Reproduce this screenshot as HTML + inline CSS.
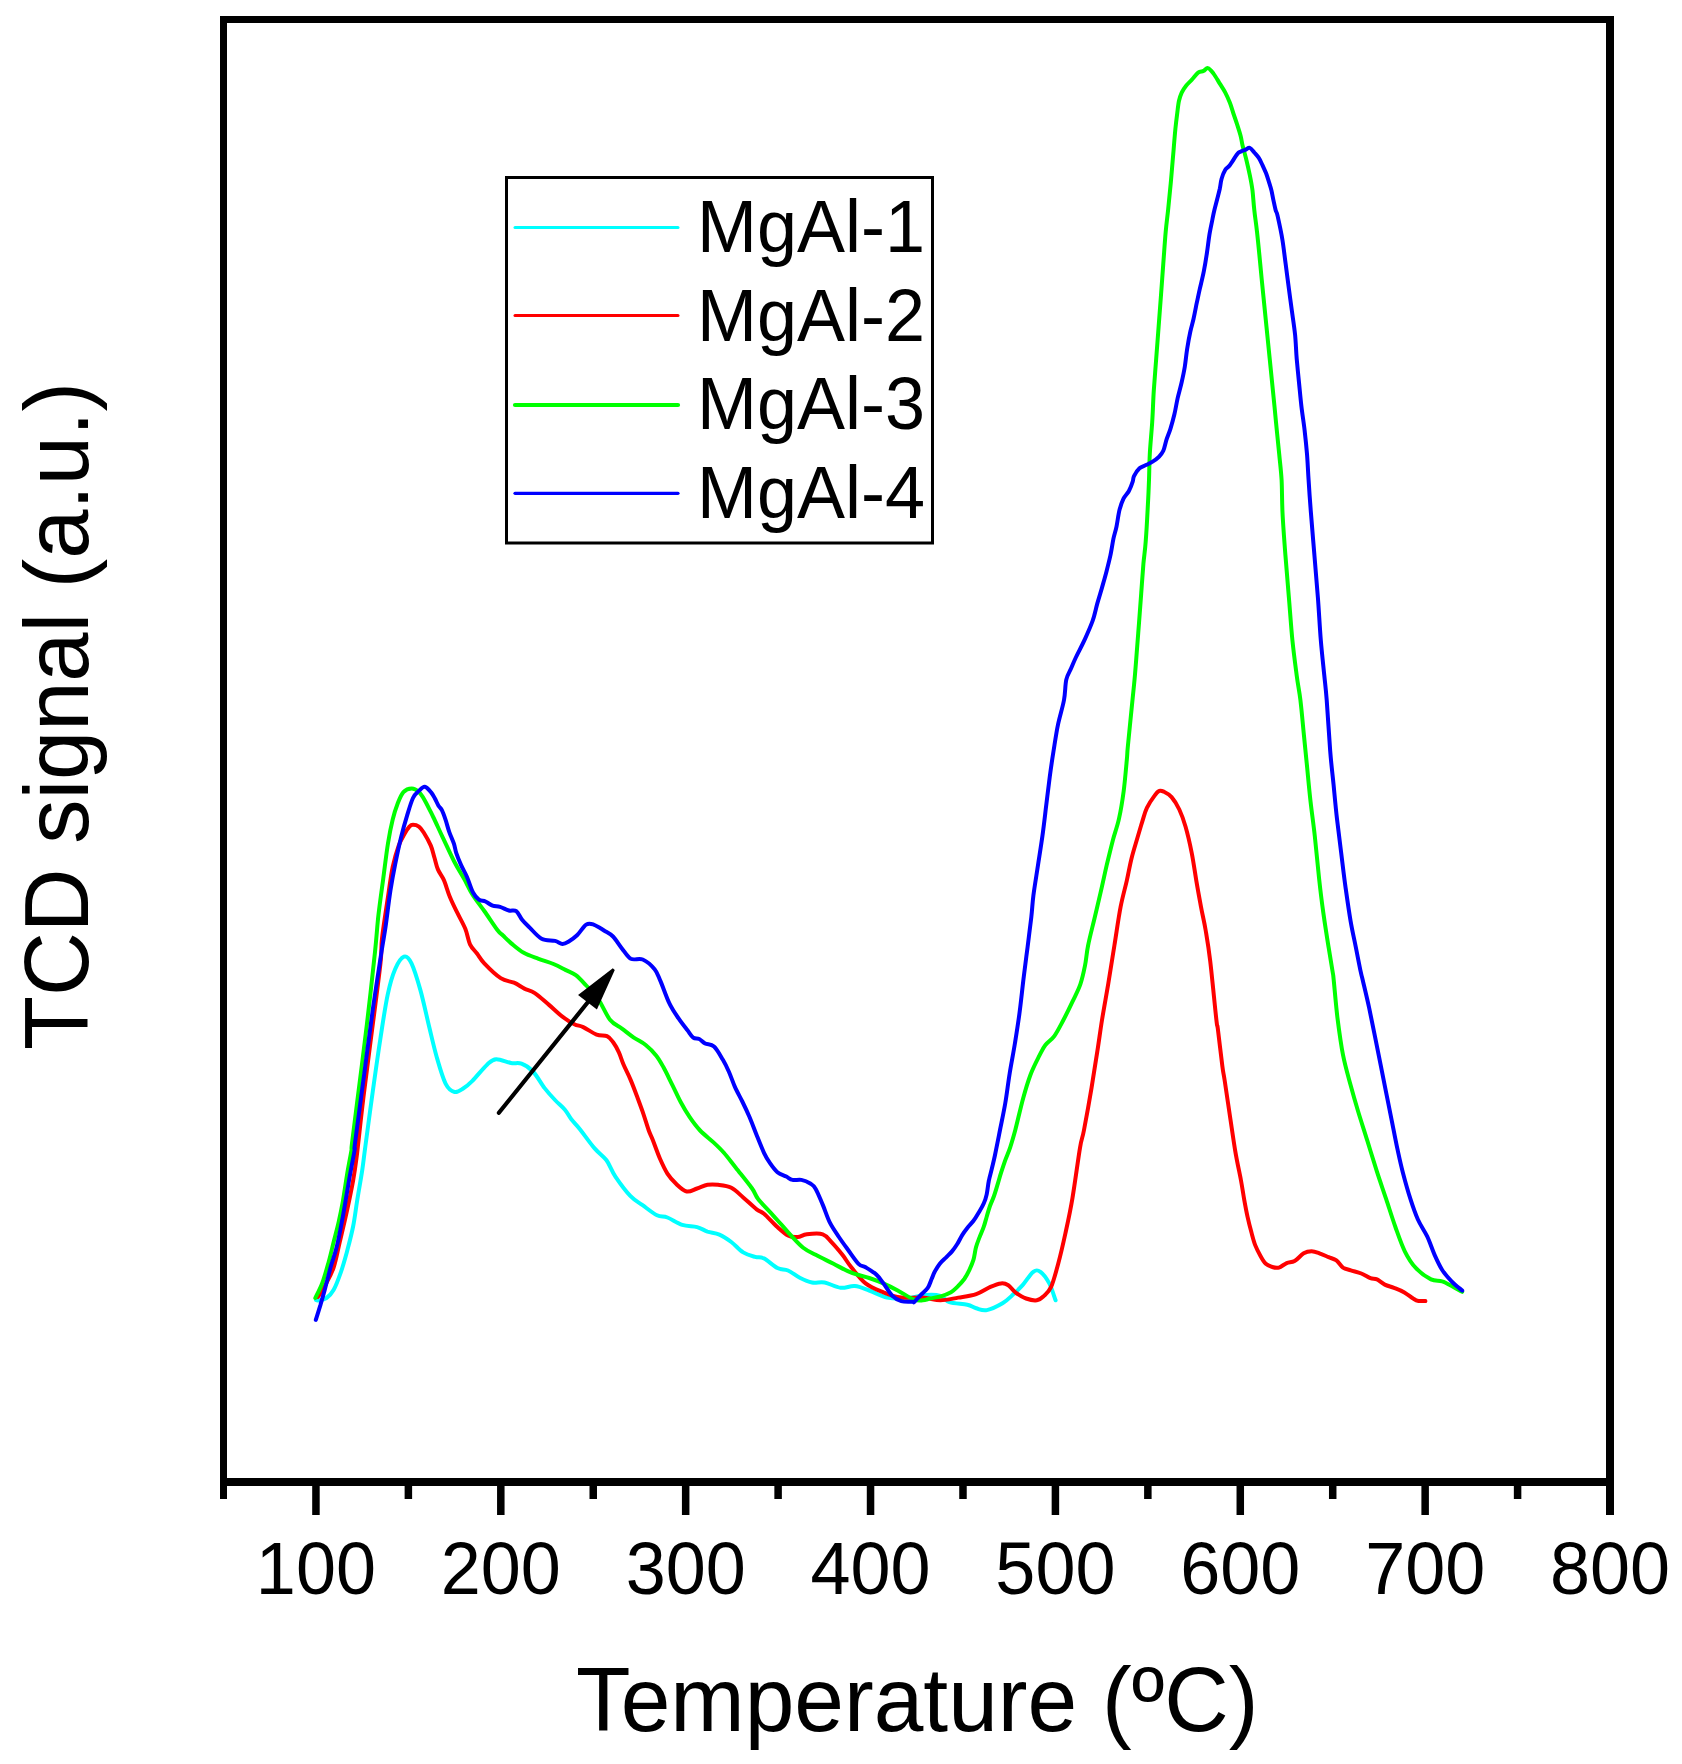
<!DOCTYPE html>
<html><head><meta charset="utf-8"><title>TCD signal</title>
<style>html,body{margin:0;padding:0;background:#fff;}svg{display:block;}</style>
</head><body>
<svg width="1682" height="1764" viewBox="0 0 1682 1764">
<rect x="0" y="0" width="1682" height="1764" fill="#ffffff"/>
<path d="M316 1300C316.4 1300.1 316.6 1300.8 318.4 1300.5C320.1 1300.2 323.9 1299.8 326.5 1298C329.1 1296.2 331.3 1294.1 333.7 1289.8C336.1 1285.5 338.6 1278.7 340.8 1272.4C343 1266.1 344.8 1259.7 346.9 1252C348.9 1244.3 351.4 1235 353.1 1226.5C354.8 1218 355.6 1210.3 357.1 1201C358.6 1191.7 360.8 1179.6 362.2 1170.4C363.6 1161.2 363.6 1159.2 365.4 1146C367.2 1132.8 370.3 1109 372.8 1091.2C375.3 1073.4 377.8 1055.3 380.3 1039.2C382.8 1023.1 385.2 1006.2 387.7 994.6C390.2 983 392.4 975.6 395.1 969.3C397.8 963 401.3 957.7 404 956.7C406.7 955.7 408.8 957.8 411.5 963.4C414.2 969 417.4 979.5 420.4 990.1C423.4 1000.8 426.6 1016.1 429.3 1027.3C432 1038.5 434 1047.6 436.7 1057C439.4 1066.4 442.7 1078 445.7 1083.8C448.7 1089.6 451.6 1091.3 454.6 1092C457.6 1092.7 460.5 1090.1 463.5 1088.2C466.5 1086.3 468.4 1084.8 472.4 1080.8C476.4 1076.8 483.3 1068 487.3 1064.4C491.3 1060.8 492.2 1059.4 496.2 1059.2C500.1 1059 506.8 1062.2 511 1063C515.2 1063.8 517.8 1062.3 521.5 1063.7C525.2 1065.1 529.1 1067.4 533 1071.5C536.9 1075.6 540.9 1083.3 544.6 1088.1C548.3 1092.8 551.6 1096.4 555 1100C558.4 1103.6 562.2 1106.5 564.9 1109.7C567.6 1112.9 568.8 1116.1 571.3 1119.3C573.8 1122.5 575.8 1124.2 579.7 1129C583.6 1133.8 590.1 1143.2 594.6 1148.4C599.1 1153.6 603 1155.6 606.5 1160.3C610 1165 611.4 1170.7 615.4 1176.6C619.4 1182.5 625.8 1191.2 630.3 1195.9C634.8 1200.6 637.8 1201.7 642.2 1204.9C646.7 1208.1 652.8 1213.2 657 1215.3C661.2 1217.4 663.2 1215.9 667.4 1217.5C671.6 1219.1 677.3 1223.3 682.3 1224.9C687.2 1226.5 692.9 1226 697.1 1227.1C701.3 1228.2 703.8 1230.3 707.5 1231.6C711.2 1232.8 715.4 1232.9 719.4 1234.6C723.4 1236.3 727.3 1239 731.3 1242C735.3 1245 739.2 1249.9 743.2 1252.4C747.2 1254.9 751.6 1255.9 755.1 1256.9C758.6 1257.9 760.3 1256.6 764 1258.4C767.7 1260.2 773.4 1266 777.4 1268C781.4 1270 784.3 1268.9 788 1270.5C791.7 1272.1 795.8 1275.8 799.8 1277.8C803.8 1279.8 808 1281.7 812.1 1282.5C816.2 1283.3 819.9 1281.6 824.6 1282.5C829.4 1283.4 835.6 1287.2 840.6 1287.8C845.6 1288.4 850.1 1285.6 854.9 1286.1C859.7 1286.5 863.9 1288.6 869.2 1290.5C874.6 1292.4 881.1 1296.3 887 1297.6C892.9 1298.9 898.3 1298.9 904.8 1298.5C911.3 1298.1 920.2 1295.4 926.2 1295C932.2 1294.6 936.6 1294.7 940.5 1295.9C944.4 1297.1 944.9 1300.6 949.4 1302.1C953.9 1303.6 962.8 1303.8 967.3 1304.8C971.8 1305.8 972.9 1307.4 976.2 1308.3C979.5 1309.2 982.5 1311 986.9 1310.1C991.3 1309.2 998.4 1305.7 1002.9 1303C1007.4 1300.3 1010.3 1297.1 1013.6 1294.1C1016.9 1291.1 1019.3 1288.9 1022.6 1285.2C1025.9 1281.5 1030.3 1274 1033.3 1271.8C1036.3 1269.6 1037.7 1269.9 1040.4 1271.8C1043.1 1273.7 1046.8 1278.7 1049.3 1283.4C1051.8 1288.2 1054.5 1297.5 1055.6 1300.3" fill="none" stroke="#00ffff" stroke-width="4" stroke-linejoin="round" stroke-linecap="round"/>
<path d="M317.9 1297C319.2 1295 322.9 1289.7 325.5 1284.7C328.1 1279.8 331.3 1274.5 333.7 1267.3C336.1 1260.1 337.6 1251.1 339.8 1241.8C342 1232.5 344.7 1221.4 346.9 1211.2C349.1 1201 351.5 1189.4 353.1 1180.6C354.7 1171.8 354.9 1170.5 356.5 1158.1C358.1 1145.7 360.2 1124.6 362.4 1106C364.6 1087.4 366.9 1070.1 369.9 1046.6C372.9 1023.1 378.3 982.9 380.3 964.9C382.3 946.9 380.7 949.8 382 938.4C383.3 927 386.2 908.6 388 896.7C389.8 884.8 390.9 875.5 392.7 867C394.5 858.5 396.7 851.1 398.7 845.6C400.7 840.1 402.8 836.9 404.6 833.7C406.4 830.5 408 828.1 409.4 826.6C410.8 825.1 411.4 824.8 413 824.8C414.6 824.8 417.1 825.3 418.9 826.6C420.7 827.9 421.7 829.3 423.7 832.5C425.7 835.7 429 841.4 430.8 845.6C432.6 849.8 433.2 853.5 434.4 857.5C435.6 861.5 436.3 865.6 437.9 869.4C439.5 873.2 441.9 875.5 443.9 880.1C445.9 884.7 447.6 891.4 449.8 896.7C452 902.1 454.4 906.9 457 912.2C459.6 917.6 463.1 923.4 465.3 928.8C467.5 934.1 468 940.1 470 944.3C472 948.5 474.8 950.6 477.2 953.8C479.6 957 480.4 959.3 484.3 963.4C488.2 967.5 495.8 975 500.7 978.2C505.6 981.4 510.1 981 514 982.7C518 984.4 520.9 986.9 524.4 988.6C527.9 990.3 530.7 990.4 534.8 993.1C538.9 995.8 544.4 1001 549 1004.9C553.6 1008.8 558.2 1013.5 562.4 1016.7C566.6 1019.9 570.8 1022.5 574.3 1024.2C577.8 1025.9 579.5 1025.4 583.2 1027.1C586.9 1028.8 592.6 1033.1 596.6 1034.6C600.6 1036.1 604.3 1034.9 607 1036.1C609.7 1037.3 611 1039.3 613 1042C615 1044.7 617.2 1048.7 618.9 1052.4C620.6 1056.1 621.5 1059.8 623.4 1064.3C625.3 1068.8 628.3 1074.4 630.5 1079.6C632.7 1084.8 634.7 1090.1 636.7 1095.5C638.7 1100.9 640.7 1106.2 642.7 1111.9C644.7 1117.7 647 1125.4 648.6 1130C650.2 1134.6 650.7 1134.7 652.6 1139.5C654.5 1144.3 657.5 1153.1 660 1158.8C662.5 1164.5 664.7 1169.4 667.4 1173.6C670.1 1177.8 673.1 1181 676.3 1184C679.5 1187 683.2 1190.8 686.7 1191.5C690.2 1192.2 693.6 1189.6 697.1 1188.5C700.6 1187.4 704 1185.4 707.5 1184.8C711 1184.2 714 1184.3 718 1184.8C722 1185.3 727.1 1185.7 731.3 1187.8C735.5 1189.9 739 1193.8 743.2 1197.4C747.4 1201 753.1 1206.6 756.6 1209.3C760.1 1212 760.5 1210.8 764 1213.8C767.5 1216.8 773.3 1223.4 777.4 1227.1C781.5 1230.8 785.1 1234.1 788.5 1235.8C791.9 1237.5 794.8 1237.2 797.8 1237C800.8 1236.8 802.6 1234.8 806.8 1234.3C811 1233.8 818.6 1232.9 822.8 1234.3C826.9 1235.7 828.4 1239 831.7 1242.4C835 1245.8 839.1 1250.7 842.4 1254.8C845.7 1258.9 847.4 1262.5 851.3 1267.3C855.2 1272.1 860.2 1279.2 865.6 1283.4C871 1287.6 877.5 1289.9 883.4 1292.3C889.3 1294.7 894.8 1296.7 901.3 1297.6C907.8 1298.5 916.2 1297.1 922.7 1297.6C929.2 1298 934.6 1300.3 940.5 1300.3C946.4 1300.3 952.3 1298.6 958.3 1297.6C964.2 1296.6 970.9 1295.9 976.2 1294.1C981.6 1292.3 986.2 1288.7 990.4 1286.9C994.5 1285.1 998.1 1283.7 1001.1 1283.4C1004.1 1283.1 1005.9 1283.7 1008.3 1285.2C1010.7 1286.7 1012.4 1290.1 1015.4 1292.3C1018.4 1294.5 1022.5 1297.2 1026.1 1298.5C1029.7 1299.8 1033.8 1300.7 1036.8 1300.3C1039.8 1299.9 1041.6 1298.1 1044 1295.9C1046.4 1293.7 1048.7 1292.2 1051.1 1286.9C1053.5 1281.6 1055.8 1272.7 1058.2 1263.8C1060.6 1254.9 1063 1244.4 1065.4 1233.4C1067.8 1222.4 1070.1 1212.1 1072.5 1197.8C1074.9 1183.5 1078.1 1159.1 1080 1147.8C1081.9 1136.5 1082.1 1140 1084 1130C1085.9 1120 1089.3 1101.3 1091.5 1088.1C1093.7 1074.9 1095.7 1062.2 1097.4 1050.9C1099.2 1039.6 1100.2 1031.1 1102 1020C1103.8 1008.9 1106.1 996.5 1108.2 984.1C1110.3 971.7 1112.3 958.4 1114.4 945.5C1116.5 932.6 1118.5 917.7 1120.6 906.9C1122.7 896.1 1125 888.6 1126.8 880.6C1128.6 872.6 1129.6 866.1 1131.4 858.9C1133.2 851.7 1135.8 843.5 1137.6 837.3C1139.4 831.1 1140.7 826.7 1142.2 821.8C1143.8 816.9 1144.8 812.3 1146.9 807.9C1149 803.5 1152.5 798.4 1154.6 795.6C1156.6 792.8 1157.7 791.5 1159.2 790.9C1160.8 790.2 1161.8 790.7 1163.9 791.7C1166 792.7 1169 794.1 1171.6 797.1C1174.2 800.1 1177 804.6 1179.3 809.5C1181.6 814.4 1183.4 819.3 1185.5 826.5C1187.6 833.7 1189.9 843.8 1191.7 852.8C1193.5 861.8 1194.8 871.6 1196.3 880.6C1197.8 889.6 1199.5 898.7 1201 906.9C1202.5 915.1 1204.1 921 1205.6 930C1207.1 939 1208.4 946 1210.2 961C1212 976 1215.1 1008.7 1216.4 1020C1217.7 1031.3 1216.8 1021 1217.8 1028.6C1218.8 1036.2 1221.2 1057.2 1222.3 1065.8C1223.4 1074.4 1223.3 1071.7 1224.6 1080C1225.9 1088.3 1228.1 1103.8 1229.9 1115.7C1231.7 1127.6 1233.5 1140.6 1235.3 1151.3C1237.1 1162 1239.4 1172 1240.9 1180C1242.4 1188 1243.1 1193.5 1244.2 1199.6C1245.3 1205.7 1246.3 1211.1 1247.5 1216.6C1248.7 1222 1250.1 1227.5 1251.4 1232.3C1252.7 1237.1 1253.8 1241.5 1255.3 1245.4C1256.8 1249.3 1258.8 1252.9 1260.5 1255.9C1262.2 1259 1263.8 1261.9 1265.8 1263.7C1267.8 1265.5 1270.1 1266.3 1272.3 1267C1274.5 1267.7 1276.5 1268.2 1278.9 1267.6C1281.3 1266.9 1284.1 1264.2 1286.7 1263.1C1289.3 1262 1291.8 1262.7 1294.6 1261.1C1297.4 1259.5 1300.9 1254.9 1303.7 1253.3C1306.5 1251.7 1309 1251.3 1311.6 1251.3C1314.2 1251.3 1316.6 1252.3 1319.4 1253.3C1322.2 1254.3 1325.8 1256 1328.6 1257.2C1331.4 1258.4 1334 1258.7 1336.4 1260.4C1338.8 1262.1 1340.6 1265.9 1343 1267.6C1345.4 1269.2 1347.8 1269.3 1350.8 1270.3C1353.8 1271.3 1358 1272.2 1361.3 1273.5C1364.6 1274.8 1367.8 1277.1 1370.4 1278.1C1373 1279.1 1374.6 1278.3 1377 1279.4C1379.4 1280.5 1382 1283.2 1384.8 1284.6C1387.6 1286 1390.7 1286.6 1394 1287.9C1397.3 1289.2 1400.7 1290.4 1404.4 1292.5C1408.1 1294.6 1412.7 1298.9 1416.2 1300.3C1419.7 1301.7 1423.9 1300.9 1425.4 1301" fill="none" stroke="#ff0000" stroke-width="4" stroke-linejoin="round" stroke-linecap="round"/>
<path d="M315.3 1298C316.5 1295.5 320.2 1288.7 322.4 1282.7C324.6 1276.7 326.7 1269 328.6 1262.2C330.5 1255.4 332 1248.6 333.7 1241.8C335.4 1235 337.3 1228.2 338.8 1221.4C340.3 1214.6 341.5 1208.7 342.9 1201C344.2 1193.3 345.5 1184 346.9 1175.5C348.3 1167 350.6 1155.4 351.5 1150C352.4 1144.6 350.7 1154.2 352 1143.2C353.3 1132.2 357 1103.6 359.5 1083.8C362 1064 364.3 1046.3 366.9 1024.3C369.5 1002.3 373.1 970.3 375 952C376.9 933.7 377.1 926.8 378.5 914.6C379.9 902.4 381.6 890.8 383.2 878.9C384.8 867 386.4 853.1 388 843.2C389.6 833.3 391.1 826 392.7 819.5C394.3 813 395.7 808.6 397.5 804C399.3 799.4 401 794.7 403.4 792.1C405.8 789.5 409.2 788.5 411.8 788.5C414.4 788.5 416.7 790.1 418.9 792.1C421.1 794.1 422.4 796.2 424.8 800.4C427.2 804.5 430.2 810.9 433.2 817C436.2 823.1 439.1 829.8 442.7 837.3C446.3 844.8 451 855.4 454.6 862.3C458.2 869.2 461.1 873.5 464.1 878.9C467.1 884.2 469 889 472.4 894.4C475.8 899.8 480.1 905.1 484.3 911C488.5 916.9 494.3 925.9 497.4 930C500.5 934.1 500.6 933.2 503 935.5C505.4 937.8 508.4 941 511.9 943.9C515.4 946.8 519.3 950.3 523.8 952.8C528.2 955.3 533.6 956.9 538.6 958.8C543.6 960.7 549 962.1 553.5 964C558 965.9 561.7 968 565.4 969.9C569.1 971.8 572.3 972.5 575.8 975.1C579.3 977.7 582.5 981.5 586.2 985.5C589.9 989.5 594.1 993.2 598.1 998.9C602.1 1004.6 606 1014.8 610 1019.7C614 1024.7 617.9 1025.6 621.9 1028.6C625.9 1031.6 629.8 1034.9 633.8 1037.6C637.8 1040.3 642 1042 645.7 1045C649.4 1048 653.1 1051.7 656.1 1055.4C659.1 1059.1 660.8 1062.3 663.5 1067.3C666.2 1072.2 669.5 1079.3 672.4 1085.1C675.3 1090.9 677.9 1096.9 680.8 1102.3C683.7 1107.7 686.5 1112.5 689.7 1117.2C692.9 1121.9 696.1 1126.3 700.1 1130.5C704.1 1134.7 709.5 1138.7 713.5 1142.4C717.5 1146.1 720.2 1148.6 723.9 1152.8C727.6 1157 731.1 1161.8 735.8 1167.7C740.5 1173.7 748.4 1183.3 752.1 1188.5C755.8 1193.7 754.6 1194.4 758.1 1198.9C761.6 1203.4 769.4 1211.3 773 1215.3C776.6 1219.3 777 1219.7 780 1223C783 1226.3 786.8 1231.1 790.7 1235.2C794.6 1239.3 799 1244.4 803.2 1247.7C807.4 1251 810.7 1252.1 815.7 1254.8C820.8 1257.5 827.6 1260.8 833.5 1263.8C839.4 1266.8 845.3 1270.3 851.3 1272.7C857.2 1275.1 863.9 1276.2 869.2 1278C874.6 1279.8 878.6 1281.3 883.4 1283.4C888.1 1285.5 892.6 1287.8 897.7 1290.5C902.8 1293.2 909.6 1297.8 913.8 1299.4C918 1301 919.9 1300.5 922.7 1300.3C925.5 1300.1 927.6 1299.1 930.6 1298.4C933.6 1297.7 937.4 1297.3 940.8 1296.3C944.2 1295.3 948.3 1293.7 951 1292.2C953.7 1290.7 954.9 1289.3 957.1 1287.1C959.3 1284.9 962.2 1281.9 964.3 1279C966.3 1276.1 967.9 1273 969.4 1269.8C970.9 1266.6 972.4 1263.3 973.5 1259.6C974.6 1255.8 975 1251 976 1247.3C977 1243.5 978.3 1240.5 979.6 1237.1C980.9 1233.7 982.5 1230.3 983.7 1226.9C984.9 1223.5 985.7 1220.1 986.7 1216.7C987.7 1213.3 988.6 1209.9 989.8 1206.5C991 1203.1 992.5 1200.2 993.9 1196.3C995.3 1192.4 996.8 1187 998 1183.1C999.2 1179.2 999.8 1176.7 1001 1172.9C1002.2 1169.2 1003.6 1164.9 1005.1 1160.6C1006.6 1156.3 1008.5 1152.4 1010.2 1147.3C1011.9 1142.2 1013.1 1138.1 1015.3 1130C1017.4 1121.9 1020.6 1107.7 1023.1 1098.5C1025.6 1089.3 1027.8 1081.9 1030.5 1074.7C1033.2 1067.5 1037 1060.4 1039.5 1055.4C1042 1050.5 1042.9 1048.2 1045.4 1045C1047.9 1041.8 1051.3 1040.3 1054.3 1036.1C1057.3 1031.9 1060.3 1025.8 1063.4 1020C1066.5 1014.2 1069.9 1007.2 1072.7 1001.2C1075.5 995.2 1078.4 990 1080.4 984.1C1082.5 978.2 1083.7 972 1085 965.6C1086.3 959.2 1086.5 953.2 1088.1 945.5C1089.6 937.8 1092.2 928 1094.3 919.2C1096.4 910.4 1098.4 901.9 1100.5 892.9C1102.6 883.9 1104.7 873.9 1106.7 865.1C1108.8 856.4 1110.8 848.1 1112.8 840.4C1114.8 832.7 1117.2 827 1119 818.7C1120.8 810.5 1122.4 800.7 1123.7 790.9C1125 781.1 1126.1 767.3 1126.8 760C1127.5 752.7 1127 755.3 1127.8 746.9C1128.6 738.5 1130.4 720.9 1131.5 709.7C1132.6 698.6 1133.6 689.5 1134.5 680C1135.4 670.5 1136 662.4 1136.7 652.9C1137.5 643.4 1138.2 633.1 1139 623.2C1139.8 613.3 1140.5 603.4 1141.2 593.5C1141.9 583.6 1142.7 572.5 1143.4 563.8C1144.2 555.1 1145 551.4 1145.7 541.5C1146.5 531.6 1147.4 514.5 1147.9 504.3C1148.5 494.1 1148.7 488.4 1149 480C1149.3 471.6 1149.3 463.6 1149.8 454C1150.3 444.4 1151.5 432.8 1152.2 422.2C1152.9 411.6 1153.1 401.1 1153.8 390.5C1154.5 379.9 1155.4 369.3 1156.2 358.7C1157 348.1 1157.8 337.6 1158.6 327C1159.4 316.4 1160.2 305.8 1161 295.2C1161.8 284.6 1162.5 274.1 1163.3 263.5C1164.1 252.9 1164.9 240.6 1165.7 231.7C1166.5 222.8 1167.2 218.4 1168.1 210C1169 201.6 1170 191.5 1170.9 181.5C1171.8 171.5 1172.8 158.6 1173.6 149.8C1174.3 141 1174.8 135 1175.4 128.9C1176 122.9 1176.6 118.2 1177.2 113.5C1177.8 108.8 1178.2 104.3 1179 100.8C1179.8 97.3 1180.5 95.2 1181.7 92.6C1182.9 90 1184.6 87.5 1186.3 85.4C1188 83.3 1189.7 82 1191.7 79.9C1193.7 77.8 1196.1 74.2 1198.1 72.7C1200.1 71.2 1201.8 71.7 1203.5 70.9C1205.2 70.1 1206.3 67.6 1208 68.1C1209.7 68.5 1211.5 71 1213.5 73.6C1215.5 76.2 1217.8 80.4 1219.8 83.6C1221.8 86.8 1223.6 89.4 1225.3 92.6C1227 95.8 1228.4 99.1 1229.8 102.6C1231.2 106.1 1232.2 109.9 1233.4 113.5C1234.6 117.1 1235.9 120.6 1237.1 124.4C1238.3 128.2 1239.8 132.7 1240.7 136.2C1241.6 139.7 1241.6 141.4 1242.5 145.2C1243.4 149 1244.9 153.8 1246.1 158.8C1247.3 163.8 1248.7 169.8 1249.8 175.1C1250.9 180.4 1251.8 184.8 1252.5 190.6C1253.2 196.4 1253.5 203.2 1254.3 210C1255 216.8 1256 222.8 1257 231.7C1258 240.6 1259.2 252.9 1260.2 263.5C1261.2 274.1 1262.2 284.6 1263.3 295.2C1264.3 305.8 1265.4 316.4 1266.5 327C1267.6 337.6 1268.6 348.1 1269.7 358.7C1270.8 369.3 1271.9 379.9 1272.9 390.5C1274 401.1 1275 411.6 1276 422.2C1277 432.8 1278.3 444.4 1279.2 454C1280.1 463.6 1281 470.2 1281.6 480C1282.1 489.8 1281.9 500 1282.5 512.5C1283.1 525 1284.3 540.8 1285.4 555C1286.5 569.2 1287.7 583.4 1288.9 597.6C1290.1 611.8 1291.1 627.1 1292.4 640.1C1293.7 653.1 1295.4 665.5 1296.7 675.5C1298 685.5 1299.2 690.2 1300.4 700C1301.6 709.8 1302.7 722.7 1303.8 734C1304.9 745.3 1306.1 756.6 1307.2 768C1308.3 779.4 1309.3 790.8 1310.6 802.1C1311.9 813.5 1313.4 823.4 1314.8 836.1C1316.2 848.9 1317.7 865.9 1319.1 878.6C1320.5 891.4 1321.7 901.3 1323.3 912.6C1324.9 923.9 1326.9 936.7 1328.5 946.6C1330.1 956.5 1331.8 966.6 1332.7 972.2C1333.6 977.8 1332.9 972.5 1333.7 980C1334.5 987.5 1335.9 1004.9 1337.4 1017.4C1339 1029.9 1340.8 1043.7 1343 1054.9C1345.2 1066.1 1348 1075.5 1350.5 1084.8C1353 1094.1 1355.2 1101.7 1358 1111C1360.8 1120.3 1364.3 1130.9 1367.4 1140.9C1370.5 1150.9 1373.6 1161.2 1376.7 1170.9C1379.8 1180.6 1383 1189.6 1386.1 1198.9C1389.2 1208.2 1392.3 1218.3 1395.4 1227C1398.5 1235.7 1401.4 1244.4 1404.8 1251.3C1408.2 1258.2 1411.6 1263.5 1416 1268.2C1420.4 1272.9 1426.6 1277.2 1431 1279.4C1435.4 1281.6 1438.5 1280 1442.2 1281.3C1445.9 1282.5 1450.1 1285.2 1453.4 1286.9C1456.7 1288.7 1460.7 1291 1462.2 1291.8" fill="none" stroke="#00ff00" stroke-width="4" stroke-linejoin="round" stroke-linecap="round"/>
<path d="M315.8 1319.9C316.6 1317.4 318.9 1309.9 320.4 1305.1C321.8 1300.2 322.8 1297.1 324.5 1290.8C326.2 1284.5 328.6 1274.6 330.6 1267.3C332.6 1260 334.6 1255.5 336.7 1247C338.8 1238.5 340.8 1227.4 342.9 1216.3C344.9 1205.2 347.1 1191.6 349 1180.6C350.9 1169.5 353.6 1156.2 354.6 1150C355.6 1143.8 353.4 1155.5 355 1143.2C356.6 1130.9 360.9 1098.6 363.9 1076.3C366.9 1054 369.9 1030 372.8 1009.5C375.7 989 379.2 966.8 381.3 953C383.4 939.2 384.1 936.9 385.6 926.5C387.1 916.1 388.8 901.1 390.4 890.8C392 880.5 393.3 873.5 395.1 864.6C396.9 855.7 399.1 845.4 401.1 837.3C403.1 829.2 405 822.4 407 815.9C409 809.4 411 802.2 413 798C415 793.8 416.9 792.8 418.9 790.9C420.9 789 422.7 786.4 424.8 786.7C426.9 787 429.6 790.6 431.3 792.6C433 794.6 433.7 796.3 434.9 798.5C436.1 800.7 437.3 803.7 438.5 805.7C439.7 807.7 440.8 808 442 810.4C443.2 812.8 444.4 816.3 445.6 819.9C446.8 823.5 447.8 827.8 449.2 831.8C450.6 835.8 452.7 840.1 453.9 843.7C455.1 847.3 455.1 849.6 456.3 853.2C457.5 856.8 459.3 861.1 461.1 865.1C462.9 869.1 465 872.4 467 877C469 881.6 471 888.7 473 892.5C475 896.3 476.8 898.1 478.9 899.6C481 901.1 483.2 900.5 485.5 901.5C487.8 902.5 490.2 904.8 492.6 905.7C495 906.6 497.3 906 500 906.8C502.7 907.6 506.2 909.8 508.9 910.5C511.6 911.2 514.1 909.6 516.3 911.2C518.5 912.8 520.1 917.4 522.3 920.1C524.5 922.8 526.5 924.5 529.7 927.6C532.9 930.7 537.4 936.5 541.6 938.7C545.8 940.9 551.5 940 555 940.9C558.5 941.8 560.2 943.8 562.4 943.9C564.6 944 565.9 943.2 568.4 941.7C570.9 940.2 574.3 937.9 577.3 935C580.3 932.1 583.5 926.3 586.2 924.6C588.9 922.9 590.6 923.6 593.6 924.6C596.6 925.6 600.8 928.5 604 930.5C607.2 932.5 610 933.5 613 936.5C616 939.5 618.9 944.7 621.9 948.4C624.9 952.1 627.3 956.9 630.8 958.8C634.3 960.6 638.7 957.8 642.7 959.5C646.7 961.2 651.6 965.6 654.6 969.2C657.6 972.8 658 975.4 660.5 981.1C663 986.8 666.4 997.2 669.4 1003.4C672.4 1009.6 675.4 1013.8 678.4 1018.2C681.4 1022.7 684.8 1026.9 687.3 1030.1C689.8 1033.3 691.2 1036.1 693.2 1037.6C695.2 1039.1 697.2 1038 699.2 1039C701.2 1040 702.6 1042.2 705.1 1043.5C707.6 1044.8 711 1043.8 714 1046.5C717 1049.2 720.4 1055.6 722.9 1059.8C725.4 1064 726.9 1067.2 728.9 1071.7C730.9 1076.2 732.6 1081.6 734.8 1086.6C737 1091.6 739.8 1096.4 742.3 1101.5C744.8 1106.6 747.1 1111.4 749.5 1117C751.9 1122.6 754.2 1129 756.6 1135C759 1141 761.8 1148.1 764 1152.8C766.2 1157.5 767.8 1160 770 1163.2C772.2 1166.4 774.7 1170 777.4 1172.2C780.1 1174.4 783.8 1175.3 786.3 1176.6C788.8 1177.9 790 1179.4 792.5 1179.9C795 1180.5 798.4 1179.3 801.4 1179.9C804.4 1180.5 807.9 1182 810.3 1183.5C812.7 1185 813.6 1185.3 815.7 1188.9C817.8 1192.5 820.4 1199.3 822.8 1204.9C825.2 1210.5 827.2 1217.4 829.9 1222.7C832.6 1228 835.9 1232.5 838.9 1237C841.9 1241.5 844.5 1245 847.8 1249.5C851.1 1254 855.5 1260.8 858.5 1263.8C861.5 1266.8 862.6 1265.5 865.6 1267.3C868.6 1269.1 873.3 1271.8 876.3 1274.5C879.3 1277.2 880.7 1279.8 883.4 1283.4C886.1 1287 889.4 1292.9 892.4 1295.9C895.4 1298.9 898 1300.2 901.3 1301.2C904.6 1302.2 909.8 1301.7 912 1301.8C914.2 1301.9 912.9 1303 914.3 1301.9C915.7 1300.8 918.2 1297.6 920.4 1295.3C922.6 1293 925.7 1290.9 927.6 1288.2C929.5 1285.5 930.4 1281.7 931.6 1279C932.8 1276.3 933.3 1274.3 934.7 1271.8C936.1 1269.2 937.9 1266.1 939.8 1263.7C941.7 1261.3 943.9 1259.6 945.9 1257.6C947.9 1255.5 950.1 1253.6 952 1251.4C953.9 1249.2 955.4 1247 957.1 1244.3C958.8 1241.6 960.5 1237.8 962.2 1235.1C963.9 1232.4 965.4 1230.4 967.3 1228C969.2 1225.6 971.6 1223.3 973.5 1220.8C975.4 1218.2 976.9 1215.6 978.6 1212.7C980.3 1209.8 982.4 1206.6 983.7 1203.5C985.1 1200.4 985.9 1198 986.7 1194.3C987.6 1190.5 987.9 1185.2 988.8 1181C989.6 1176.8 990.8 1173 991.8 1168.8C992.8 1164.5 993.9 1160.3 994.9 1155.5C995.9 1150.7 997.1 1144.5 998 1140.2C998.9 1136 998.8 1136.2 1000 1130C1001.2 1123.8 1003.7 1112.5 1005.3 1103C1006.9 1093.5 1008.1 1083.1 1009.7 1073.2C1011.3 1063.3 1013.3 1053.4 1014.9 1043.5C1016.5 1033.6 1017.9 1025 1019.4 1013.8C1020.9 1002.6 1022.4 987.8 1023.8 976.6C1025.2 965.5 1026.3 956.8 1027.6 946.9C1028.8 937 1030.3 925.8 1031.3 917.2C1032.3 908.6 1032.3 904.1 1033.4 895.5C1034.5 886.9 1036.4 875.7 1037.9 865.8C1039.4 855.9 1041 846 1042.4 836.1C1043.8 826.2 1044.9 816.2 1046.1 806.3C1047.3 796.4 1048.6 785.8 1049.8 776.6C1051 767.4 1052.1 760 1053.5 751.3C1054.9 742.6 1056.2 733.1 1058 724.6C1059.8 716.1 1062.6 707.5 1064 700C1065.4 692.5 1065.1 684.8 1066.3 679.6C1067.5 674.4 1069.4 672.4 1070.9 668.8C1072.5 665.2 1073.3 662.9 1075.6 658C1077.9 653.1 1082 645.6 1084.8 639.4C1087.6 633.2 1090.5 626.8 1092.6 620.9C1094.7 615 1095.7 609.3 1097.2 603.9C1098.7 598.5 1100.2 593.8 1101.8 588.4C1103.3 583 1105.1 576.8 1106.5 571.4C1107.9 566 1109.1 561.3 1110.3 555.9C1111.5 550.5 1112.4 543.8 1113.4 538.9C1114.4 534 1115.5 531.5 1116.5 526.6C1117.5 521.7 1118.4 514.2 1119.6 509.6C1120.8 505 1122 501.8 1123.5 498.7C1125 495.6 1127.4 493.8 1128.9 491C1130.4 488.2 1131.9 484.2 1132.7 481.7C1133.5 479.2 1132.9 478.4 1134 476.2C1135.1 474 1137.5 470.1 1139.5 468.3C1141.5 466.5 1143.8 466.2 1145.9 465.1C1148 464 1150.1 463.2 1152.2 461.9C1154.3 460.6 1156.8 459 1158.6 457.1C1160.4 455.2 1162 453.7 1163.3 450.8C1164.6 447.9 1165.3 443.4 1166.5 439.7C1167.7 436 1169.2 432.8 1170.5 428.6C1171.8 424.4 1173.2 419.3 1174.4 414.3C1175.6 409.3 1176.4 403.7 1177.6 398.4C1178.8 393.1 1180.4 387.8 1181.6 382.5C1182.8 377.2 1183.9 372.2 1184.8 366.7C1185.7 361.1 1186.2 355 1187.1 349.2C1188 343.4 1189.2 336.7 1190.3 331.7C1191.4 326.7 1192.4 323.8 1193.5 319C1194.6 314.2 1195.7 308.2 1196.7 303.2C1197.8 298.2 1198.6 294.2 1199.8 288.9C1201 283.6 1202.6 277.5 1203.8 271.4C1205 265.3 1206.1 258.5 1207 252.4C1207.9 246.3 1208.5 240.5 1209.4 234.9C1210.3 229.3 1211.7 223.2 1212.5 219C1213.3 214.8 1213.6 213.2 1214.4 210C1215.2 206.8 1216.2 203.2 1217.1 199.6C1218 196 1219 192.2 1219.8 188.7C1220.5 185.2 1220.7 182 1221.6 178.8C1222.5 175.6 1223.9 172 1225.3 169.7C1226.7 167.4 1227.8 167.8 1229.8 165.2C1231.8 162.6 1235.3 156.6 1237.1 154.3C1238.9 152 1239.3 152.3 1240.7 151.6C1242.1 150.8 1243.7 150.4 1245.2 149.8C1246.7 149.2 1248.3 147.5 1249.8 147.9C1251.3 148.3 1252.8 150.8 1254.3 152.5C1255.8 154.2 1257.4 155.8 1258.8 157.9C1260.2 160 1261.3 162.6 1262.5 165.2C1263.7 167.8 1265 170.6 1266.1 173.3C1267.1 176 1267.9 178.6 1268.8 181.5C1269.7 184.4 1270.8 187.6 1271.5 190.6C1272.2 193.6 1272.6 196.4 1273.3 199.6C1274 202.8 1274.9 207.3 1275.6 210C1276.3 212.7 1276.5 211 1277.6 215.9C1278.7 220.8 1281.1 231.8 1282.4 239.7C1283.7 247.6 1284.5 255.6 1285.6 263.5C1286.6 271.4 1287.7 279.4 1288.7 287.3C1289.8 295.2 1290.8 303.2 1291.9 311.1C1293 319 1294.3 327 1295.1 334.9C1295.9 342.8 1296 350.8 1296.7 358.7C1297.4 366.6 1298.2 374.6 1299 382.5C1299.8 390.4 1300.5 398.4 1301.4 406.3C1302.3 414.2 1303.7 422.2 1304.6 430.2C1305.5 438.1 1306.3 445.7 1307 454C1307.7 462.3 1307.9 470.2 1308.6 480C1309.2 489.8 1309.9 500 1310.9 512.5C1311.9 525 1313.2 540.8 1314.4 555C1315.6 569.2 1316.8 583.4 1317.9 597.6C1319 611.8 1319.7 627.1 1320.8 640.1C1321.9 653.1 1323.3 665.5 1324.3 675.5C1325.3 685.5 1325.7 687.4 1326.7 700C1327.7 712.6 1329.1 736.8 1330.2 751C1331.3 765.2 1332.5 773.6 1333.6 785C1334.7 796.4 1335.7 807.8 1337 819.1C1338.3 830.5 1339.8 841.8 1341.2 853.1C1342.6 864.4 1343.9 875.8 1345.5 887.1C1347.1 898.4 1348.9 911.2 1350.6 921.1C1352.3 931 1354 938.1 1355.7 946.6C1357.4 955.1 1359.6 966.6 1360.8 972.2C1362 977.8 1361.3 974 1362.7 980C1364.1 986 1367.2 998.8 1369.2 1008.1C1371.2 1017.5 1373 1026.8 1374.9 1036.1C1376.8 1045.4 1378.6 1054.8 1380.5 1064.2C1382.4 1073.6 1384.2 1083 1386.1 1092.3C1388 1101.6 1389.8 1110.9 1391.7 1120.3C1393.6 1129.7 1395.4 1139.7 1397.3 1148.4C1399.2 1157.1 1400.7 1164.3 1402.9 1172.7C1405.1 1181.1 1407.9 1191.1 1410.4 1198.9C1412.9 1206.7 1415.1 1213.2 1417.9 1219.5C1420.7 1225.8 1424.4 1230.5 1427.2 1236.4C1430 1242.3 1432.2 1249.5 1434.7 1255.1C1437.2 1260.7 1439.4 1265.6 1442.2 1270C1445 1274.4 1448.3 1277.9 1451.6 1281.3C1454.9 1284.7 1460.4 1289 1462.2 1290.6" fill="none" stroke="#0000ff" stroke-width="4" stroke-linejoin="round" stroke-linecap="round"/>
<line x1="498.9" y1="1112.8" x2="590" y2="999.5" stroke="#000" stroke-width="4.2" stroke-linecap="round"/>
<polygon points="613.6,969.4 580.2,994.9 596.4,1007.4" fill="#000" stroke="#000" stroke-width="2.6" stroke-linejoin="miter" stroke-miterlimit="3"/>
<rect x="220" y="16" width="1394" height="7" fill="#000"/>
<rect x="220" y="1478" width="1394" height="8" fill="#000"/>
<rect x="220" y="16" width="7" height="1483" fill="#000"/>
<rect x="1606" y="16" width="8" height="1499" fill="#000"/>
<rect x="312.19" y="1486" width="7.5" height="29" fill="#000"/>
<rect x="404.62" y="1486" width="7.5" height="13" fill="#000"/>
<rect x="497.06" y="1486" width="7.5" height="29" fill="#000"/>
<rect x="589.49" y="1486" width="7.5" height="13" fill="#000"/>
<rect x="681.92" y="1486" width="7.5" height="29" fill="#000"/>
<rect x="774.36" y="1486" width="7.5" height="13" fill="#000"/>
<rect x="866.79" y="1486" width="7.5" height="29" fill="#000"/>
<rect x="959.23" y="1486" width="7.5" height="13" fill="#000"/>
<rect x="1051.66" y="1486" width="7.5" height="29" fill="#000"/>
<rect x="1144.10" y="1486" width="7.5" height="13" fill="#000"/>
<rect x="1236.53" y="1486" width="7.5" height="29" fill="#000"/>
<rect x="1328.97" y="1486" width="7.5" height="13" fill="#000"/>
<rect x="1421.40" y="1486" width="7.5" height="29" fill="#000"/>
<rect x="1513.84" y="1486" width="7.5" height="13" fill="#000"/>
<text transform="translate(315.9 1594) scale(1 1.041)" font-size="72" text-anchor="middle" font-family="'Liberation Sans', sans-serif" fill="#000">100</text>
<text transform="translate(500.8 1594) scale(1 1.041)" font-size="72" text-anchor="middle" font-family="'Liberation Sans', sans-serif" fill="#000">200</text>
<text transform="translate(685.7 1594) scale(1 1.041)" font-size="72" text-anchor="middle" font-family="'Liberation Sans', sans-serif" fill="#000">300</text>
<text transform="translate(870.5 1594) scale(1 1.041)" font-size="72" text-anchor="middle" font-family="'Liberation Sans', sans-serif" fill="#000">400</text>
<text transform="translate(1055.4 1594) scale(1 1.041)" font-size="72" text-anchor="middle" font-family="'Liberation Sans', sans-serif" fill="#000">500</text>
<text transform="translate(1240.3 1594) scale(1 1.041)" font-size="72" text-anchor="middle" font-family="'Liberation Sans', sans-serif" fill="#000">600</text>
<text transform="translate(1425.2 1594) scale(1 1.041)" font-size="72" text-anchor="middle" font-family="'Liberation Sans', sans-serif" fill="#000">700</text>
<text transform="translate(1610.0 1594) scale(1 1.041)" font-size="72" text-anchor="middle" font-family="'Liberation Sans', sans-serif" fill="#000">800</text>
<text transform="translate(576 1730.5) scale(1 1.041)" font-size="88" textLength="682.5" lengthAdjust="spacingAndGlyphs" font-family="'Liberation Sans', sans-serif" fill="#000">Temperature (ºC)</text>
<text transform="translate(88 1050) rotate(-90) scale(1 1.041)" font-size="88" textLength="668" lengthAdjust="spacingAndGlyphs" font-family="'Liberation Sans', sans-serif" fill="#000">TCD signal (a.u.)</text>
<rect x="506.5" y="177.5" width="426" height="365.5" fill="none" stroke="#000" stroke-width="3"/>
<line x1="515" y1="227.5" x2="678" y2="227.5" stroke="#00ffff" stroke-width="3" stroke-linecap="round"/>
<text transform="translate(697 252.2) scale(1 1.041)" font-size="72" font-family="'Liberation Sans', sans-serif" fill="#000">MgAl-1</text>
<line x1="515" y1="315.5" x2="678" y2="315.5" stroke="#ff0000" stroke-width="3" stroke-linecap="round"/>
<text transform="translate(697 340.8) scale(1 1.041)" font-size="72" font-family="'Liberation Sans', sans-serif" fill="#000">MgAl-2</text>
<line x1="515" y1="405" x2="678" y2="405" stroke="#00ff00" stroke-width="4.2" stroke-linecap="round"/>
<text transform="translate(697 429.3) scale(1 1.041)" font-size="72" font-family="'Liberation Sans', sans-serif" fill="#000">MgAl-3</text>
<line x1="515" y1="493.3" x2="678" y2="493.3" stroke="#0000ff" stroke-width="3.2" stroke-linecap="round"/>
<text transform="translate(697 517.8) scale(1 1.041)" font-size="72" font-family="'Liberation Sans', sans-serif" fill="#000">MgAl-4</text>
</svg>
</body></html>
